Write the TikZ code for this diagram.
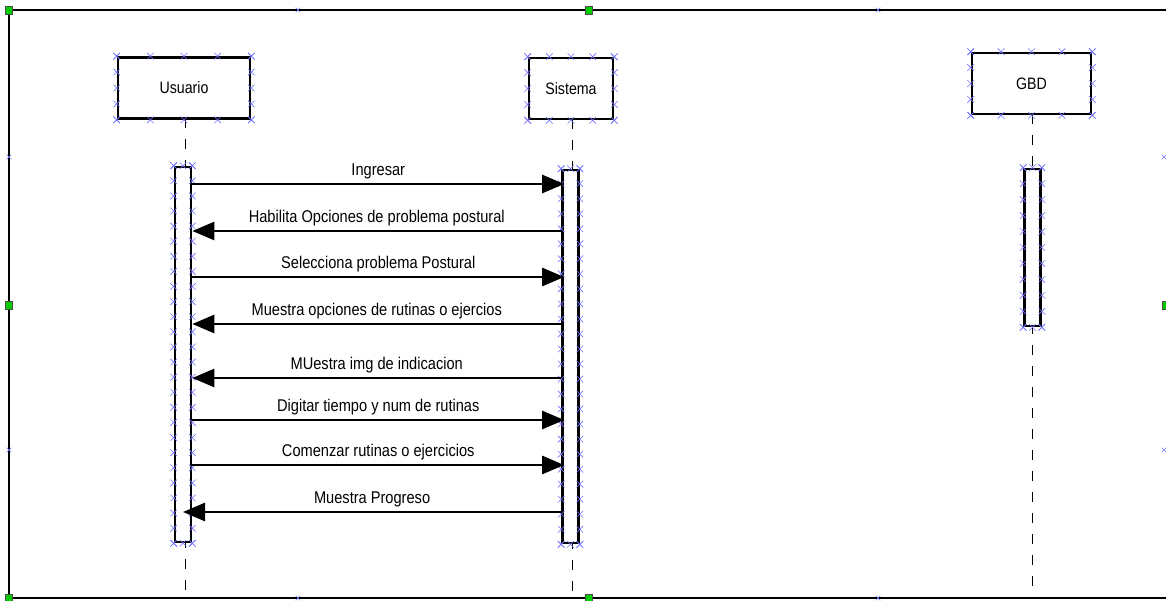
\documentclass[tikz,border=0pt]{standalone}
\usepackage{fontspec}
\setmainfont{Liberation Sans}[FakeStretch=0.86]
\usetikzlibrary{arrows.meta,calc,shapes.misc}

\tikzset{
	objbox/.style={draw, line width=2.6pt, fill=white, minimum height=61pt, inner sep=0pt, font=\fontsize{16.5}{18}\selectfont},
	actbar/.style={draw, line width=2.6pt, fill=white, minimum width=16pt, inner sep=0pt},
	lifeline/.style={line width=1pt, dash pattern=on 10pt off 11pt},
	msg/.style={line width=2.6pt, -{Triangle[length=22pt,width=18pt]}},
	msglbl/.style={above=0.5pt, font=\fontsize{17}{19}\selectfont},
	xm/.style={cross out, draw=blue!55, line width=0.6pt, minimum size=6pt, inner sep=0pt},
	handle/.style={draw=black!70, fill=green!80!black, line width=0.6pt, minimum width=7pt, minimum height=8pt, inner sep=0pt}
}

\begin{document}
\begin{tikzpicture}[x=1pt,y=-1pt]
	\useasboundingbox (0,0) rectangle (1166,601);
	%frame
		\draw[line width=2.6pt] (9,10) rectangle (1170,598);
		\foreach \p in {(298,10),(878,10),(9,157),(9,450),(298,598),(878,598),(1164,157),(1164,450)}
			\node[xm, minimum size=4pt] at \p {};
	%lifelines
		\draw[lifeline] (185,118) -- (185,598);
		\draw[lifeline] (572,119) -- (572,598);
		\draw[lifeline] (1032,114) -- (1032,590);
	%objects
		\node[objbox, minimum width=132pt] (usr) at (184,88) {Usuario};
		\node[objbox, minimum width=84pt] (sys) at (571,88.5) {Sistema};
		\node[objbox, minimum width=119pt] (gbd) at (1031.5,83.5) {GBD};
	%activation bars
		\node[actbar, minimum height=375pt] (usrAct) at (183,354.5) {};
		\node[actbar, minimum height=373pt] (sysAct) at (570.5,356.5) {};
		\node[actbar, minimum height=157pt] (gbdAct) at (1032.5,247.5) {};
	%selection marks
		\foreach \b/\h/\v in {usr/4/4, sys/4/4, gbd/4/4, usrAct/2/25, sysAct/2/25, gbdAct/2/10}{
			\foreach \i in {0,...,\h}{
				\node[xm] at ($(\b.north west)!\i/\h!(\b.north east)$) {};
				\node[xm] at ($(\b.south west)!\i/\h!(\b.south east)$) {};
			}
			\foreach \i in {0,...,\v}{
				\node[xm] at ($(\b.north west)!\i/\v!(\b.south west)$) {};
				\node[xm] at ($(\b.north east)!\i/\v!(\b.south east)$) {};
			}
		}
	%messages
		\draw[msg] (usrAct.east |- 0,184) -- node[msglbl] {Ingresar} ($(sysAct.west |- 0,184)+(3,0)$);
		\draw[msg] (sysAct.west |- 0,231) -- node[msglbl] {Habilita Opciones de problema postural} (usrAct.east |- 0,231);
		\draw[msg] (usrAct.east |- 0,277) -- node[msglbl] {Selecciona problema Postural} ($(sysAct.west |- 0,277)+(3,0)$);
		\draw[msg] (sysAct.west |- 0,324) -- node[msglbl] {Muestra opciones de rutinas o ejercios} (usrAct.east |- 0,324);
		\draw[msg] (sysAct.west |- 0,378) -- node[msglbl] {MUestra img de indicacion} (usrAct.east |- 0,378);
		\draw[msg] (usrAct.east |- 0,420) -- node[msglbl] {Digitar tiempo y num de rutinas} ($(sysAct.west |- 0,420)+(3,0)$);
		\draw[msg] (usrAct.east |- 0,465) -- node[msglbl] {Comenzar rutinas o ejercicios} ($(sysAct.west |- 0,465)+(3,0)$);
		\draw[msg] (sysAct.west |- 0,512) -- node[msglbl] {Muestra Progreso} (usrAct.center |- 0,512);
	%handles
		\foreach \p/\n in {(9,10)/h1,(589,10)/h2,(9,305)/h3,(9,598)/h4,(589,598)/h5,(1166,305)/h6}
			\node[handle] (\n) at \p {};
\end{tikzpicture}
\end{document}
